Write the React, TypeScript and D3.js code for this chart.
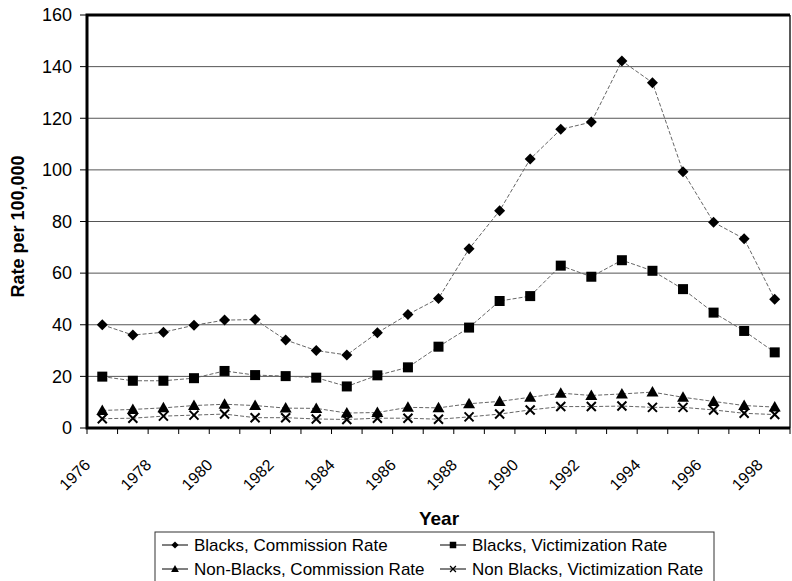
import * as d3 from "d3";

const years = [
  "1976", "1977", "1978", "1979", "1980", "1981", "1982", "1983", "1984", "1985", "1986", "1987",
  "1988", "1989", "1990", "1991", "1992", "1993", "1994", "1995", "1996", "1997", "1998",
];
const labelledYears = ["1976", "1978", "1980", "1982", "1984", "1986", "1988", "1990", "1992", "1994", "1996", "1998"];
const yTicks = [0, 20, 40, 60, 80, 100, 120, 140, 160];

const blacksCommission = [40, 36, 37.1, 39.8, 41.8, 42, 34.1, 30, 28.3, 36.9, 44, 50.2, 69.4, 84.2, 104.2, 115.7, 118.5, 142.2, 133.8, 99.3, 79.7, 73.3, 49.9];
const blacksVictimization = [19.9, 18.3, 18.3, 19.3, 22.1, 20.5, 20.1, 19.5, 16.1, 20.4, 23.5, 31.5, 38.9, 49.2, 51.1, 62.9, 58.6, 65, 60.9, 53.8, 44.7, 37.6, 29.3];
const nonBlacksCommission = [6.8, 7.2, 7.8, 8.7, 9.2, 8.7, 7.7, 7.6, 5.8, 6.0, 8.0, 7.8, 9.4, 10.3, 11.9, 13.5, 12.6, 13.2, 13.9, 11.9, 10.3, 8.7, 8.1];
const nonBlacksVictimization = [3.6, 3.8, 4.6, 5.0, 5.4, 4.0, 4.0, 3.5, 3.3, 3.8, 3.8, 3.4, 4.3, 5.4, 7.0, 8.3, 8.3, 8.5, 8.0, 8.0, 7.0, 5.7, 5.2];

type Shape = "diamond" | "square" | "triangle" | "cross";

const series: { name: string; values: number[]; shape: Shape }[] = [
  { name: "Blacks, Commission Rate", values: blacksCommission, shape: "diamond" },
  { name: "Blacks, Victimization Rate", values: blacksVictimization, shape: "square" },
  { name: "Non-Blacks, Commission Rate", values: nonBlacksCommission, shape: "triangle" },
  { name: "Non Blacks, Victimization Rate", values: nonBlacksVictimization, shape: "cross" },
];

const FONT = "'Liberation Sans', Arial, sans-serif";

// marker drawn around (0,0); s = scale factor
const Marker = ({ shape, s = 1 }: { shape: Shape; s?: number }) => {
  if (shape === "diamond") {
    const r = 5.5 * s;
    return <path d={`M0,${-r}L${r},0L0,${r}L${-r},0Z`} fill="#000" />;
  }
  if (shape === "square") {
    const r = 5 * s;
    return <rect x={-r} y={-r} width={2 * r} height={2 * r} fill="#000" />;
  }
  if (shape === "triangle") {
    const r = 6 * s;
    return <path d={`M0,${-r}L${r},${r * 0.75}L${-r},${r * 0.75}Z`} fill="#000" />;
  }
  const r = 4.5 * s;
  return (
    <path d={`M${-r},${-r}L${r},${r}M${r},${-r}L${-r},${r}`} stroke="#000" strokeWidth={2 * Math.max(s, 0.6)} fill="none" />
  );
};

export default function App() {
  const width = 792;
  const height = 581;
  const plot = { left: 87, right: 790, top: 15, bottom: 428 };

  const x = d3.scaleBand().domain(years).range([plot.left, plot.right]).padding(0);
  const y = d3.scaleLinear().domain([0, 160]).range([plot.bottom, plot.top]);
  const cx = (yr: string) => (x(yr) ?? 0) + x.bandwidth() / 2;

  const line = d3
    .line<number>()
    .x((_, i) => cx(years[i]))
    .y((d) => y(d));

  const boundaries = [...years.map((yr) => x(yr) ?? 0), plot.right];

  const legendItems = [
    { s: series[0], x: 162, y: 545 },
    { s: series[1], x: 440, y: 545 },
    { s: series[2], x: 162, y: 569 },
    { s: series[3], x: 440, y: 569 },
  ];

  return (
    <svg
      width={width}
      height={height}
      style={{ position: "absolute", left: 0, top: 0, background: "#fff" }}
      fontFamily={FONT}
    >
      <rect width={width} height={height} fill="#fff" />

      {/* gridlines */}
      {yTicks
        .filter((t) => t > 0 && t < 160)
        .map((t) => (
          <line key={t} x1={plot.left} x2={plot.right} y1={y(t)} y2={y(t)} stroke="#555" strokeWidth={1} />
        ))}

      {/* y ticks and labels */}
      {yTicks.map((t) => (
        <g key={t}>
          <line x1={plot.left - 7} x2={plot.left} y1={y(t)} y2={y(t)} stroke="#000" strokeWidth={1} />
          <text x={72} y={y(t)} dy="0.35em" textAnchor="end" fontSize={18} fill="#000">
            {t}
          </text>
        </g>
      ))}

      {/* x ticks */}
      {boundaries.map((b, i) => (
        <line key={i} x1={b} x2={b} y1={plot.bottom} y2={plot.bottom + 6} stroke="#000" strokeWidth={1} />
      ))}

      {/* x labels */}
      {labelledYears.map((yr) => (
        <text
          key={yr}
          transform={`translate(${cx(yr) - 11},${466}) rotate(-45)`}
          textAnchor="end"
          fontSize={16}
          fill="#000"
        >
          {yr}
        </text>
      ))}

      {/* frame */}
      <line x1={plot.right} x2={plot.right} y1={plot.top} y2={plot.bottom} stroke="#222" strokeWidth={1.5} />
      <path
        d={`M${plot.right},${plot.top}H${plot.left}V${plot.bottom}H${plot.right}`}
        fill="none"
        stroke="#000"
        strokeWidth={3}
      />

      {/* series */}
      {series.map((s) => (
        <g key={s.name}>
          <path d={line(s.values) ?? ""} fill="none" stroke="#666" strokeWidth={1} strokeDasharray="4 2" />
          {s.values.map((v, i) => (
            <g key={i} transform={`translate(${cx(years[i])},${y(v)})`}>
              <Marker shape={s.shape} />
            </g>
          ))}
        </g>
      ))}

      {/* axis titles */}
      <text
        transform={`translate(24,${(plot.top + plot.bottom) / 2 + 5}) rotate(-90)`}
        textAnchor="middle"
        fontSize={18}
        fontWeight="bold"
        fill="#000"
      >
        Rate per 100,000
      </text>
      <text x={439} y={525} textAnchor="middle" fontSize={19} fontWeight="bold" fill="#000">
        Year
      </text>

      {/* legend */}
      <rect x={155} y={532} width={559} height={60} fill="#fff" stroke="#333" strokeWidth={1} />
      {legendItems.map(({ s, x: lx, y: ly }) => (
        <g key={s.name} transform={`translate(${lx},${ly})`}>
          <line x1={0} x2={26} y1={0} y2={0} stroke="#000" strokeWidth={1} />
          <g transform="translate(13,0)">
            <Marker shape={s.shape} s={0.65} />
          </g>
          <text x={32} y={0} dy="0.35em" fontSize={17} fill="#000">
            {s.name}
          </text>
        </g>
      ))}
    </svg>
  );
}
